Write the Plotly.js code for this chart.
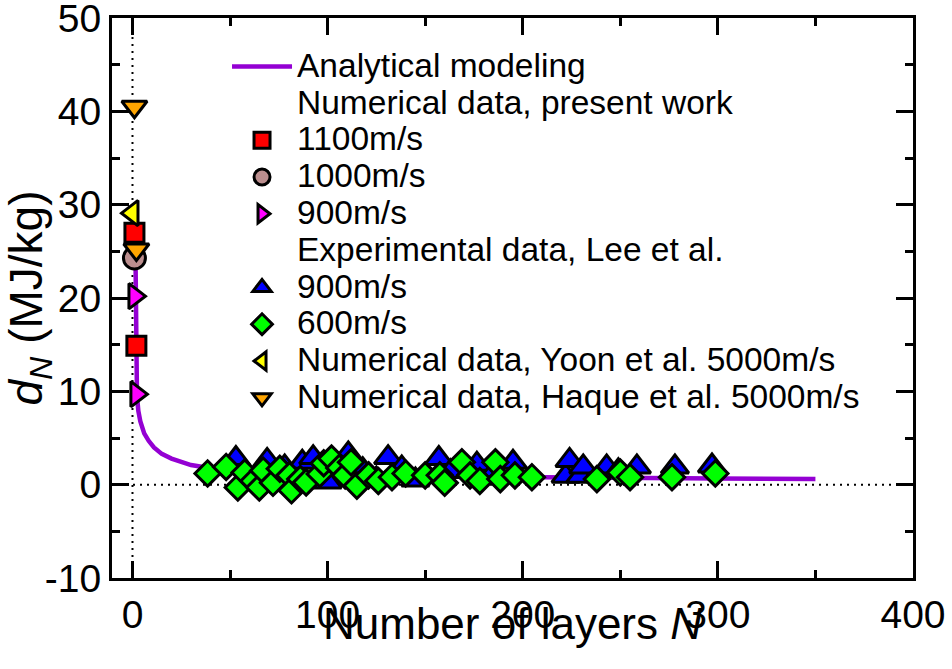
<!DOCTYPE html>
<html>
<head>
<meta charset="utf-8">
<script src="https://cdn.plot.ly/plotly-3.0.1.min.js"></script>
<style>html,body{margin:0;padding:0;background:#fff;}#chart{width:952px;height:669px;}</style>
</head>
<body>
<div id="chart"></div>
<script>
// Analytical modeling curve
const modelN = [1.6, 1.7, 1.8, 2.0, 2.3, 3, 4, 6, 8.3, 11, 15, 20, 25, 30, 37, 45, 55, 70, 85, 100, 130, 160, 200, 250, 300, 350];
const modelD = [23.3, 18, 14, 11.5, 9.5, 7.9, 6.8, 5.5, 4.7, 4.0, 3.3, 2.8, 2.4, 2.1, 1.86, 1.65, 1.5, 1.3, 1.2, 1.1, 0.95, 0.87, 0.78, 0.7, 0.65, 0.6];

// Numerical data, present work
const v1100N = [1, 2];
const v1100D = [27.0, 14.9];
const v1000N = [1];
const v1000D = [24.3];
const v900N = [1, 2];
const v900D = [20.2, 9.7];

// Experimental data, Lee et al.
const lee900N = [53, 60, 69, 78, 87, 92.6, 100, 110.6, 118, 125, 131, 138, 145, 157, 163, 176.5, 184, 195, 222, 224, 229.5, 231, 243, 249, 258.5, 278, 297];
const lee900D = [2.8, 0.8, 2.6, 1.9, 2.4, 2.9, 0.3, 3.3, 1.6, 0.6, 2.9, 1.8, 0.5, 2.8, 1.4, 2.2, 1.0, 2.4, 0.9, 2.6, 0.9, 1.9, 1.9, 1.5, 1.9, 1.9, 2.0];
const lee600N = [38.5, 48, 54, 57.5, 62, 65, 67, 72, 75.5, 80.5, 81.5, 86, 89, 96, 98, 102, 106, 109, 112, 115, 121, 126, 133, 140, 150, 157.5, 160, 168.8, 173, 178, 186, 188.5, 196, 204.7, 238, 250, 255, 276.5, 298.7];
const lee600D = [1.2, 1.9, -0.3, 1.3, 0.4, -0.3, 1.5, 0.2, 1.7, 1.0, -0.6, 0.6, 0.25, 1.15, 2.3, 2.8, 1.8, 1.0, 2.4, -0.1, 1.0, 0.4, 0.8, 1.2, 1.0, 1.0, 0.2, 2.4, 1.0, 0.4, 2.4, 0.6, 1.0, 0.8, 0.6, 1.3, 0.8, 0.8, 1.2];

// Yoon et al. and Haque et al.
const yoonN = [0];
const yoonD = [29.1];
const haqueN = [1, 2];
const haqueD = [40.5, 25.2];

// Axis ticks
const yTickVals = [-10, 0, 10, 20, 30, 40, 50];
const yTickText = ['-10', '0', '10', '20', '30', '40', '50'];
const xTickVals = [0, 100, 200, 300, 400];
const xTickText = ['0', '100', '200', '300', '400'];

const LF = 33.5;
function nm(s) { return '<span style="font-size:' + LF + 'px">' + s + '</span>'; }
const outline = {color: '#000', width: 3};

const traces = [
  {x: modelN, y: modelD, mode: 'lines', name: nm('Analytical modeling'),
   line: {color: 'rgb(148,0,211)', width: 4.5}},
  {x: [null], y: [null], mode: 'markers', name: nm('Numerical data, present work'),
   marker: {color: 'rgba(0,0,0,0)', line: {width: 0}}},
  {x: v1100N, y: v1100D, mode: 'markers', name: nm('1100m/s'),
   marker: {symbol: 'square', size: 19, color: 'rgb(255,0,0)', line: outline}},
  {x: v1000N, y: v1000D, mode: 'markers', name: nm('1000m/s'),
   marker: {symbol: 'circle', size: 22, color: 'rgb(188,143,143)', line: outline}},
  {x: v900N, y: v900D, mode: 'markers', name: nm('900m/s'),
   marker: {symbol: 'triangle-right', size: 22, color: 'rgb(255,0,255)', line: outline}},
  {x: [null], y: [null], mode: 'markers', name: nm('Experimental data, Lee et al.'),
   marker: {color: 'rgba(0,0,0,0)', line: {width: 0}}},
  {x: lee900N, y: lee900D, mode: 'markers', name: nm('900m/s'),
   marker: {symbol: 'triangle-up', size: 24, color: 'rgb(0,0,255)', line: outline}},
  {x: lee600N, y: lee600D, mode: 'markers', name: nm('600m/s'),
   marker: {symbol: 'diamond', size: 19.5, color: 'rgb(0,255,0)', line: outline}},
  {x: yoonN, y: yoonD, mode: 'markers', name: nm('Numerical data, Yoon et al. 5000m/s'),
   marker: {symbol: 'triangle-left', size: 22, color: 'rgb(255,255,0)', line: outline}},
  {x: haqueN, y: haqueD, mode: 'markers', name: nm('Numerical data, Haque et al. 5000m/s'),
   marker: {symbol: 'triangle-down', size: 22, color: 'rgb(255,165,0)', line: outline}}
];

const axisCommon = {
  showgrid: false, zeroline: false, showline: true, linecolor: '#000', linewidth: 3,
  mirror: 'ticks', ticks: 'inside', ticklen: 17, tickwidth: 3, tickcolor: '#000',
  ticklabeloverflow: 'allow',
  tickfont: {size: 39, color: '#000'}
};

const layout = {
  width: 952, height: 669,
  margin: {l: 112, r: 39, t: 18, b: 91},
  paper_bgcolor: '#fff', plot_bgcolor: '#fff',
  font: {family: 'Liberation Sans, Arial, Helvetica, sans-serif', color: '#000'},
  showlegend: true,
  legend: {x: 0.1436, y: 0.955, xanchor: 'left', yanchor: 'top', bgcolor: 'rgba(0,0,0,0)',
           font: {size: 26, color: '#000'}, tracegroupgap: 0, itemwidth: 60},
  xaxis: Object.assign({}, axisCommon, {
    range: [-10.5, 400.01], tickmode: 'array', tickvals: xTickVals, ticktext: xTickText,
    minor: {dtick: 50, tick0: 0, ticks: 'inside', ticklen: 8, tickwidth: 3, tickcolor: '#000'}
  }),
  yaxis: Object.assign({}, axisCommon, {
    range: [-10, 50.01], tickmode: 'array', tickvals: yTickVals, ticktext: yTickText,
    minor: {dtick: 5, tick0: 0, ticks: 'inside', ticklen: 8, tickwidth: 3, tickcolor: '#000'},
    title: {text: '<i>d</i><sub><i>N</i></sub> (MJ/kg)', font: {size: 46, color: '#000'}, standoff: 4}
  }),
  annotations: [
    {text: 'Number of layers <i>N</i>', xref: 'paper', yref: 'paper', x: 0.5, y: -0.082,
     xanchor: 'center', yanchor: 'middle', showarrow: false, font: {size: 44, color: '#000'}}
  ],
  shapes: [
    {type: 'line', xref: 'paper', x0: 0, x1: 1, yref: 'y', y0: 0, y1: 0, layer: 'below',
     line: {color: '#000', width: 2, dash: '2px,5px'}},
    {type: 'line', xref: 'x', x0: 0, x1: 0, yref: 'paper', y0: 0, y1: 1, layer: 'below',
     line: {color: '#000', width: 2, dash: '2px,5px'}}
  ]
};

Plotly.newPlot('chart', traces, layout, {displayModeBar: false, staticPlot: true});
</script>
</body>
</html>
